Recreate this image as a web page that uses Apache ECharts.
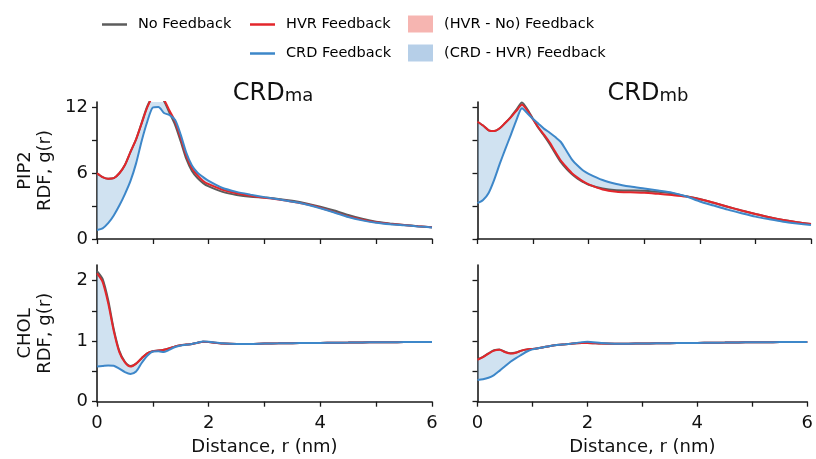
<!DOCTYPE html>
<html>
<head>
<meta charset="utf-8">
<script src="https://cdn.jsdelivr.net/npm/echarts@6/dist/echarts.min.js"></script>
<style>html,body{margin:0;padding:0;background:#fff}#c{width:816px;height:459px}</style>
</head>
<body>
<div id="c"></div>
<script>
// Shared distance grid (nm)
var distance = [0,0.1,0.2,0.3,0.4,0.5,0.6,0.7,0.8,0.9,1.0,1.1,1.2,1.3,1.4,1.5,1.6,1.7,1.8,1.9,2.0,2.25,2.5,2.75,3.0,3.25,3.5,3.75,4.0,4.25,4.5,4.75,5.0,5.25,5.5,5.75,6.0];

// PIP2, CRDma
var pip2MaNo  = [6.0,5.65,5.5,5.55,6.0,6.75,7.95,9.1,10.6,12.1,13.0,13.2,12.6,11.5,10.4,8.9,7.3,6.2,5.55,5.1,4.8,4.3,4.02,3.85,3.78,3.65,3.48,3.25,2.95,2.6,2.19,1.85,1.58,1.42,1.28,1.17,1.07];
var pip2MaHvr = [6.0,5.65,5.5,5.55,6.0,6.75,7.95,9.1,10.55,12.0,13.0,13.2,12.7,11.7,10.7,9.2,7.6,6.45,5.8,5.3,5.0,4.5,4.17,3.95,3.77,3.6,3.4,3.17,2.85,2.45,2.05,1.75,1.52,1.38,1.27,1.16,1.07];
var pip2MaCrd = [0.83,0.97,1.44,2.15,3.05,4.1,5.3,6.9,8.95,10.7,12.0,12.05,11.5,11.3,10.85,9.5,7.85,6.7,6.05,5.65,5.3,4.65,4.3,4.05,3.82,3.62,3.4,3.15,2.8,2.42,2.0,1.7,1.49,1.35,1.25,1.15,1.06];

// PIP2, CRDmb
var pip2MbNo  = [10.7,10.35,9.92,9.85,10.1,10.6,11.15,11.8,12.45,11.8,10.95,10.1,9.4,8.65,7.8,7.0,6.4,5.9,5.5,5.2,4.95,4.6,4.45,4.43,4.41,4.3,4.17,3.9,3.65,3.3,2.95,2.6,2.28,1.98,1.73,1.53,1.37];
var pip2MbHvr = [10.7,10.35,9.92,9.85,10.1,10.6,11.1,11.7,12.24,11.7,10.9,10.15,9.5,8.8,7.95,7.15,6.55,6.0,5.6,5.25,4.98,4.52,4.32,4.26,4.22,4.12,4.01,3.87,3.62,3.3,2.95,2.6,2.28,1.98,1.73,1.53,1.37];
var pip2MbCrd = [3.27,3.55,4.2,5.4,6.85,8.2,9.5,10.85,11.94,11.45,10.95,10.5,10.05,9.7,9.3,8.85,8.05,7.25,6.7,6.25,5.95,5.38,5.02,4.78,4.6,4.42,4.23,3.9,3.42,3.05,2.68,2.35,2.04,1.8,1.58,1.42,1.28];

// CHOL, CRDma
var cholMaNo  = [2.16,2.03,1.68,1.2,0.84,0.66,0.59,0.63,0.72,0.8,0.835,0.845,0.86,0.885,0.915,0.935,0.945,0.955,0.975,0.99,0.985,0.962,0.955,0.955,0.962,0.965,0.968,0.97,0.972,0.975,0.977,0.98,0.982,0.983,0.985,0.986,0.988];
var cholMaHvr = [2.12,1.98,1.63,1.17,0.82,0.65,0.58,0.63,0.72,0.8,0.835,0.845,0.86,0.885,0.915,0.935,0.945,0.955,0.975,0.99,0.985,0.962,0.955,0.955,0.962,0.965,0.968,0.97,0.972,0.975,0.977,0.98,0.982,0.983,0.985,0.986,0.988];
var cholMaCrd = [0.58,0.59,0.6,0.595,0.545,0.49,0.46,0.5,0.64,0.76,0.83,0.835,0.82,0.86,0.905,0.93,0.94,0.955,0.975,0.995,0.99,0.965,0.955,0.955,0.962,0.965,0.968,0.97,0.972,0.975,0.977,0.98,0.982,0.983,0.985,0.986,0.988];

// CHOL, CRDmb
var cholMbNo  = [0.70,0.74,0.8,0.85,0.865,0.825,0.8,0.812,0.845,0.865,0.873,0.885,0.9,0.918,0.932,0.942,0.95,0.958,0.965,0.97,0.972,0.962,0.96,0.96,0.962,0.965,0.968,0.97,0.972,0.975,0.977,0.98,0.982,0.983,0.985,0.986,0.988];
var cholMbHvr = [0.694,0.735,0.795,0.845,0.86,0.82,0.795,0.81,0.845,0.865,0.873,0.885,0.9,0.918,0.932,0.942,0.95,0.958,0.965,0.97,0.972,0.962,0.96,0.96,0.962,0.965,0.968,0.97,0.972,0.975,0.977,0.98,0.982,0.983,0.985,0.986,0.988];
var cholMbCrd = [0.36,0.37,0.395,0.44,0.51,0.585,0.66,0.72,0.775,0.83,0.865,0.885,0.9,0.918,0.932,0.942,0.95,0.96,0.972,0.985,0.99,0.97,0.96,0.96,0.962,0.965,0.968,0.97,0.972,0.975,0.977,0.98,0.982,0.983,0.985,0.986,0.988];

var xTicks = [0,1,2,3,4,5,6];
var xTickLabels = [0,2,4,6];
var pip2Ticks = [0,3,6,9,12];
var pip2TickLabels = [0,6,12];
var cholTicks = [0,0.5,1,1.5,2];
var cholTickLabels = [0,1,2];

var panelTitles = [{big:'CRD', small:'ma'}, {big:'CRD', small:'mb'}];
var rowLabels = ['PIP2\nRDF, g(r)', 'CHOL\nRDF, g(r)'];
var xLabel = 'Distance, r (nm)';

var NAME_NO = 'No Feedback', NAME_HVR = 'HVR Feedback', NAME_CRD = 'CRD Feedback';
var NAME_FILL1 = '(HVR - No) Feedback', NAME_FILL2 = '(CRD - HVR) Feedback';

var C_NO = '#5c5c5c', C_HVR = '#e3262b', C_CRD = '#3d87c9';
var C_FILL1 = 'rgba(242,140,135,0.45)', C_FILL2 = 'rgba(150,190,225,0.45)';
var C_FILL1_LEG = '#f6b5b1', C_FILL2_LEG = '#b6cfe8';

var FONT = 'DejaVu Sans';
var LINE_ICON = 'path://M0,0H30V3H0Z';

var panels = [
  {no: pip2MaNo, hvr: pip2MaHvr, crd: pip2MaCrd},
  {no: pip2MbNo, hvr: pip2MbHvr, crd: pip2MbCrd},
  {no: cholMaNo, hvr: cholMaHvr, crd: cholMaCrd},
  {no: cholMbNo, hvr: cholMbHvr, crd: cholMbCrd}
];

var grids = [
  {left: 97, top: 102, width: 335, height: 137},
  {left: 477.5, top: 102, width: 333.5, height: 137},
  {left: 97, top: 265, width: 335, height: 136.7},
  {left: 477.5, top: 265, width: 333.5, height: 136.7}
];

function pairs(ys) { return distance.map(function (x, i) { return [x, ys[i]]; }); }

var axisLineStyle = {color: '#1a1a1a', width: 1.6};

var xAxes = grids.map(function (g, i) {
  var bottom = i >= 2;
  return {
    type: 'value', gridIndex: i, min: 0, max: 6, interval: 1,
    splitLine: {show: false},
    axisLine: {show: true, onZero: false, lineStyle: axisLineStyle},
    axisTick: {show: true, inside: false, length: 5, customValues: xTicks, lineStyle: {color: '#1a1a1a', width: 1.3}},
    axisLabel: {show: bottom, customValues: xTickLabels, margin: 13, fontFamily: FONT, fontSize: 18, color: '#111'},
    name: bottom ? xLabel : '', nameLocation: 'middle', nameGap: 37,
    nameTextStyle: {fontFamily: FONT, fontSize: 18, color: '#111'}
  };
});

var yAxes = grids.map(function (g, i) {
  var top = i < 2, left = (i % 2) === 0;
  return {
    type: 'value', gridIndex: i, min: 0, max: top ? 12.5 : 2.26,
    splitLine: {show: false},
    axisLine: {show: true, onZero: false, lineStyle: axisLineStyle},
    axisTick: {show: true, inside: false, length: 5, customValues: top ? pip2Ticks : cholTicks, lineStyle: {color: '#1a1a1a', width: 1.3}},
    axisLabel: {show: left, customValues: top ? pip2TickLabels : cholTickLabels, margin: 9, fontFamily: FONT, fontSize: 18, color: '#111'},
    name: left ? (top ? rowLabels[0] : rowLabels[1]) : '',
    nameLocation: 'middle', nameRotate: 90, nameGap: 42,
    nameTextStyle: {fontFamily: FONT, fontSize: 18, lineHeight: 20, color: '#111', align: 'center'}
  };
});

var series = [];
panels.forEach(function (p, i) {
  function fill(name, a, b, color) {
    return {
      type: 'custom', name: name, xAxisIndex: i, yAxisIndex: i, clip: true, silent: true, z: 1,
      itemStyle: {color: color},
      data: [[0, 0]],
      encode: {x: 0, y: 1},
      renderItem: function (params, api) {
        var pts = [];
        for (var k = 0; k < distance.length; k++) pts.push(api.coord([distance[k], a[k]]));
        for (var k2 = distance.length - 1; k2 >= 0; k2--) pts.push(api.coord([distance[k2], b[k2]]));
        var cs = params.coordSys;
        return {
          type: 'group',
          clipPath: {type: 'rect', shape: {x: cs.x, y: cs.y, width: cs.width, height: cs.height}},
          children: [{type: 'polygon', shape: {points: pts}, style: {fill: color}}]
        };
      }
    };
  }
  series.push(fill(NAME_FILL1, p.hvr, p.no, C_FILL1));
  series.push(fill(NAME_FILL2, p.crd, p.hvr, C_FILL2));
  [[NAME_NO, p.no, C_NO], [NAME_HVR, p.hvr, C_HVR], [NAME_CRD, p.crd, C_CRD]].forEach(function (s, j) {
    series.push({
      type: 'line', name: s[0], xAxisIndex: i, yAxisIndex: i, data: pairs(s[1]),
      symbol: 'none', smooth: 0.25, clip: true, z: 2 + j,
      lineStyle: {color: s[2], width: 2}, itemStyle: {color: s[2]}
    });
  });
});

function legend(name, left, top, isRect, color) {
  return {
    left: left, top: top, padding: 0, orient: 'horizontal', selectedMode: false,
    itemWidth: 25, itemHeight: isRect ? 17 : 14,
    textStyle: {fontFamily: FONT, fontSize: 14.5, color: '#000', padding: [0, 0, 0, 6]},
    data: [{name: name, icon: isRect ? 'rect' : LINE_ICON, itemStyle: {color: color}}]
  };
}

var option = {
  animation: false,
  backgroundColor: '#ffffff',
  title: panelTitles.map(function (t, i) {
    return {
      text: '{a|' + t.big + '}{b|' + t.small + '}',
      left: i === 0 ? 268 : 643, top: 77, textAlign: 'center',
      textStyle: {fontWeight: 'normal', rich: {
        a: {fontFamily: FONT, fontSize: 24, fontWeight: 'normal', color: '#111'},
        b: {fontFamily: FONT, fontSize: 18, fontWeight: 'normal', color: '#111', padding: [5, 0, 0, 0]}
      }}
    };
  }),
  legend: [
    legend(NAME_NO, 102, 17, false, C_NO),
    legend(NAME_HVR, 250, 17, false, C_HVR),
    legend(NAME_FILL1, 408, 15.5, true, C_FILL1_LEG),
    legend(NAME_CRD, 250, 46, false, C_CRD),
    legend(NAME_FILL2, 408, 44.5, true, C_FILL2_LEG)
  ],
  grid: grids,
  xAxis: xAxes,
  yAxis: yAxes,
  series: series
};

var chart = echarts.init(document.getElementById('c'), null, {renderer: 'canvas'});
chart.setOption(option);
</script>
</body>
</html>
